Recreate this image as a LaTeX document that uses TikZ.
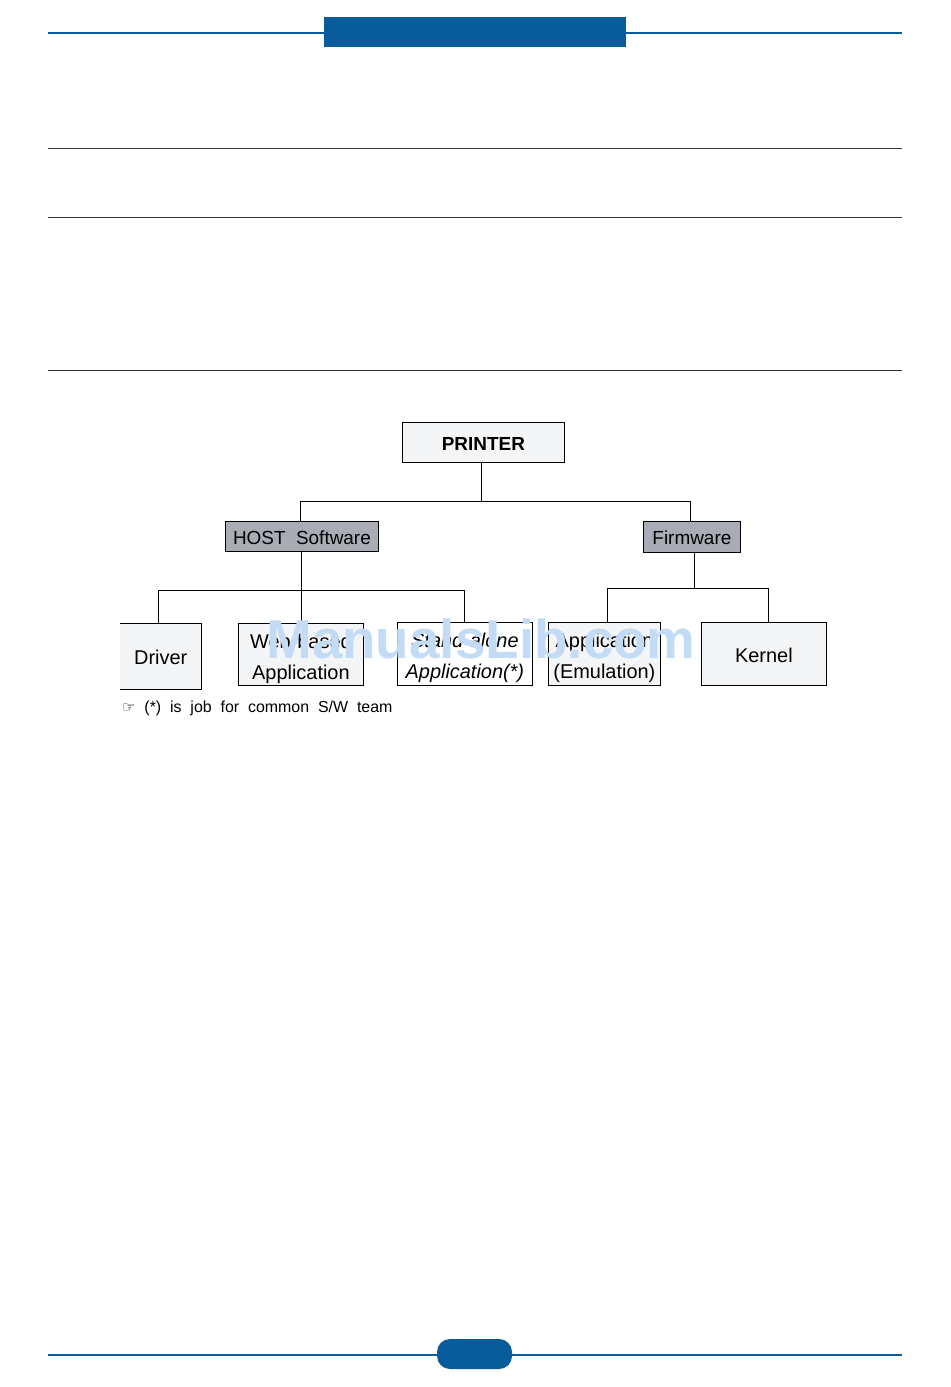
\documentclass[tikz,border=0pt]{standalone}
\usepackage{fontspec}
\setmainfont{Liberation Sans}
\newfontfamily\symfont{DejaVu Sans}
\definecolor{hdrblue}{HTML}{085C9C}
\definecolor{boxlight}{HTML}{F4F5F7}
\definecolor{boxgray}{HTML}{A9ACB4}
\definecolor{wmblue}{HTML}{C4DBF6}
\definecolor{rulegray}{HTML}{333333}
\tikzset{
  lightbox/.style={draw=black, line width=0.8bp, fill=boxlight, inner sep=0pt, anchor=north west},
  graybox/.style={draw=black, line width=0.8bp, fill=boxgray, inner sep=0pt, anchor=north west},
  conn/.style={draw=black, line width=0.8bp},
  rulel/.style={draw=rulegray, line width=0.7bp},
  lbl/.style={font=\fontsize{20}{31}\selectfont, align=center},
}
\begin{document}
\begin{tikzpicture}[x=1bp,y=-1bp]
\useasboundingbox (0,0) rectangle (950,1387);
\fill[white] (0,0) rectangle (950,1387);
% header
\draw[hdrblue, line width=2bp] (48,33) -- (902,33);
\fill[hdrblue] (324,17) rectangle (626,47);
% rules
\draw[rulel] (48,148) -- (902,148);
\draw[rulel] (48,217) -- (902,217);
\draw[rulel] (48,370) -- (902,370);
% footer
\draw[hdrblue, line width=2bp] (48,1355) -- (902,1355);
\fill[hdrblue, rounded corners=13bp] (437,1339) rectangle (512,1369);

% boxes
\node[lightbox, minimum width=162bp, minimum height=40bp] (printer) at (402,422) {};
\node[font=\bfseries\fontsize{19}{22}\selectfont] at ([yshift=-2bp]printer.center) {PRINTER};

\node[graybox, minimum width=153bp, minimum height=30bp] (host) at (225,521) {};
\node[font=\fontsize{19}{22}\selectfont] at ([yshift=-1bp]host.center) {HOST\ \ Software};

\node[graybox, minimum width=97bp, minimum height=31bp] (fw) at (643,521) {};
\node[font=\fontsize{19}{22}\selectfont] at ([yshift=-1bp]fw.center) {Firmware};

% Driver box (no left border)
\node[inner sep=0pt, anchor=north west, fill=boxlight, minimum width=81bp, minimum height=66bp] (driver) at (120,623) {};
\draw[conn] (driver.north west) -- (driver.north east) -- (driver.south east) -- (driver.south west);
\node[lbl] at ([yshift=-1bp]driver.center) {Driver};

\node[lightbox, minimum width=125bp, minimum height=62bp] (web) at (238,623) {};
\node[lbl] at ([yshift=-4bp]web.center) {Web-based\\Application};

\node[draw=black, line width=0.8bp, fill=white, inner sep=0pt, anchor=north west, minimum width=135bp, minimum height=63bp] (stand) at (397,622) {};
\node[lbl, font=\itshape\fontsize{20}{31}\selectfont] at ([yshift=-4bp]stand.center) {Stand-alone\\Application(*)};

\node[lightbox, minimum width=112bp, minimum height=63bp] (emu) at (548,622) {};
\node[lbl] at ([yshift=-4bp]emu.center) {Application\\(Emulation)};

\node[lightbox, minimum width=125bp, minimum height=63bp] (kernel) at (701,622) {};
\node[lbl] at ([yshift=-1bp]kernel.center) {Kernel};

% connectors
\coordinate (pj) at (481,501);
\draw[conn] (printer.south -| pj) -- (pj);
\draw[conn] (300,501) -- (690,501);
\draw[conn] (300,501) -- (300,521);
\draw[conn] (690,501) -- (690,521);

\coordinate (hj) at (301,590);
\draw[conn] (host.south -| hj) -- (hj);
\draw[conn] (158,590) -- (464,590);
\draw[conn] (158,590) -- (158,623);
\draw[conn] (hj) -- (301,623);
\draw[conn] (464,590) -- (464,622);

\coordinate (fj) at (694,588);
\draw[conn] (fw.south -| fj) -- (fj);
\draw[conn] (607,588) -- (768,588);
\draw[conn] (607,588) -- (607,622);
\draw[conn] (768,588) -- (768,622);

% footnote
\node[anchor=west, inner sep=0pt, font=\fontsize{16}{19}\selectfont] (note) at (122,708) {{\symfont\fontsize{15}{18}\selectfont ☞}\ \ (*)\ \ is\ \ job\ \ for\ \ common\ \ S/W\ \ team};

% watermark
\node[anchor=center, inner sep=0pt, text=wmblue, font=\bfseries\fontsize{55}{60}\selectfont] (wm) at (481,639) {ManualsLib.com};
\end{tikzpicture}
\end{document}
